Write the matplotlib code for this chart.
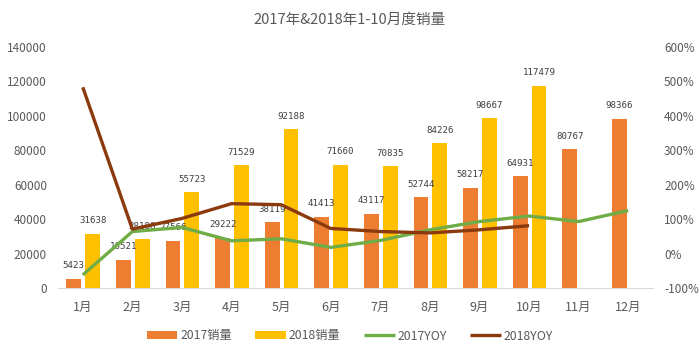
import matplotlib
matplotlib.use("Agg")
import matplotlib.pyplot as plt
import numpy as np

plt.rcParams['font.family'] = ['Noto Sans CJK SC', 'DejaVu Sans']

months = ['1月', '2月', '3月', '4月', '5月', '6月', '7月', '8月', '9月', '10月', '11月', '12月']
sales_2017 = [5423, 16521, 27566, 29222, 38119, 41413, 43117, 52744, 58217, 64931, 80767, 98366]
sales_2018 = [31638, 28188, 55723, 71529, 92188, 71660, 70835, 84226, 98667, 117479]
yoy_2017 = [-62, 64, 76, 37, 43, 18, 38, 69, 93, 109, 93, 125]
yoy_2018 = [483, 71, 102, 145, 142, 73, 64, 60, 69, 81]

left_ticks = [0, 20000, 40000, 60000, 80000, 100000, 120000, 140000]
right_ticks = [-100, 0, 100, 200, 300, 400, 500, 600]

c17 = '#ED7D31'
c18 = '#FFC000'
cg = '#70AD47'
cb = '#8B3A0E'
tick_col = '#595959'

fig = plt.figure(figsize=(7.0, 3.51), dpi=100)
ax = fig.add_axes([58/700, 63/351, 595/700, 241/351])
ax2 = ax.twinx()

x = np.arange(len(months))
x18 = np.arange(len(sales_2018))
w = 0.3
b1 = ax.bar(x - 0.18, sales_2017, width=w, color=c17, label='2017销量', zorder=2)
b2 = ax.bar(x18 + 0.2, sales_2018, width=w, color=c18, label='2018销量', zorder=2)

for bars, vals in ((b1, sales_2017), (b2, sales_2018)):
    for r, v in zip(bars, vals):
        ax.annotate(str(v), (r.get_x() + r.get_width() / 2, v), xytext=(0, 6),
                    textcoords='offset points', ha='center', va='bottom',
                    fontsize=6.6, family='DejaVu Sans Mono', color='#404040', zorder=5)

l1, = ax2.plot(x, yoy_2017, color=cg, lw=2.4, label='2017YOY', solid_capstyle='butt')
l2, = ax2.plot(x18, yoy_2018, color=cb, lw=2.4, label='2018YOY', solid_capstyle='butt')

ax.set_xlim(-0.5, len(months) - 0.5)
ax.set_ylim(0, 140000)
ax2.set_ylim(-100, 600)
ax.set_yticks(left_ticks)
ax.set_yticklabels([str(t) for t in left_ticks])
ax2.set_yticks(right_ticks)
ax2.set_yticklabels([f'{t}%' for t in right_ticks])
ax.set_xticks(x)
ax.set_xticklabels(months)

for a in (ax, ax2):
    for s in a.spines.values():
        s.set_visible(False)
ax.spines['bottom'].set_visible(True)
ax.spines['bottom'].set_color('#D9D9D9')
ax.tick_params(axis='both', length=0, colors=tick_col, labelsize=8.5)
ax.tick_params(axis='x', pad=9, labelsize=9)
ax.tick_params(axis='y', pad=8)
ax2.tick_params(axis='y', length=0, colors=tick_col, labelsize=8.5, pad=8)

fig.suptitle('2017年&2018年1-10月度销量', x=0.5, y=1 - 20/351, va='center',
             fontsize=10.5, color='#595959')

handles = [b1, b2, l1, l2]
leg = fig.legend(handles, [h.get_label() for h in handles], loc='center',
                 bbox_to_anchor=(0.5, 1 - 336/351), ncol=4, frameon=False,
                 fontsize=8.8, handlelength=2.5, handleheight=0.6, columnspacing=1.9,
                 handletextpad=0.25, labelcolor=tick_col)

fig.savefig('out.png', dpi=100)
